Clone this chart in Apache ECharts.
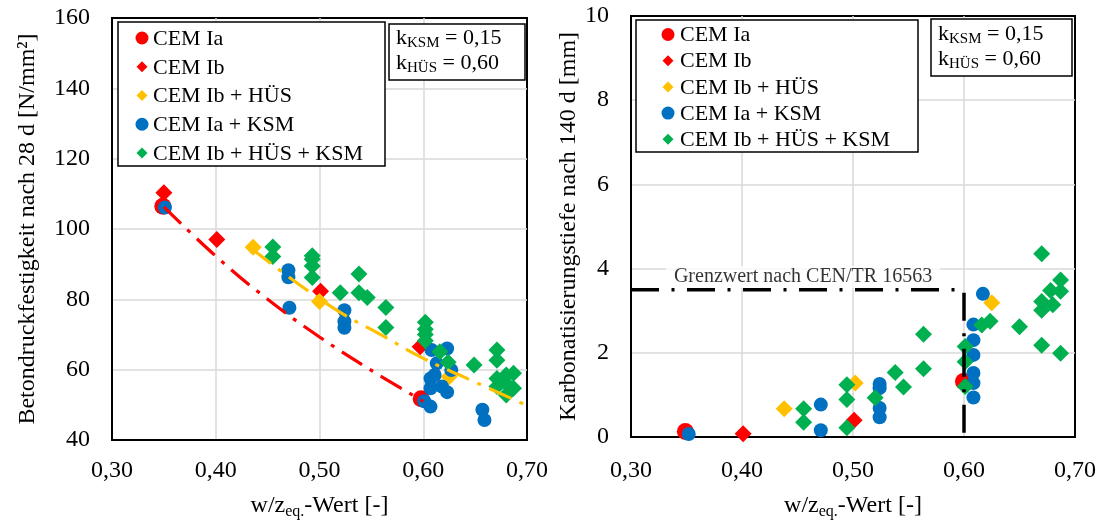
<!DOCTYPE html>
<html>
<head>
<meta charset="utf-8">
<script src="https://cdn.jsdelivr.net/npm/echarts@6/dist/echarts.min.js"></script>
<style>
  html, body { margin: 0; padding: 0; background: #fff; }
  #chart { width: 1102px; height: 525px; }
</style>
</head>
<body>
<div id="chart"></div>
<script>
const FONT = '"Liberation Serif", "Times New Roman", serif';

// Mixtures shown in both panels
const mixNames   = ['CEM Ia', 'CEM Ib', 'CEM Ib + HÜS', 'CEM Ia + KSM', 'CEM Ib + HÜS + KSM'];
const mixColors  = ['#ff0000', '#ff0000', '#ffc000', '#0070c0', '#00b050'];
const mixSymbols = ['circle', 'diamond', 'diamond', 'circle', 'diamond'];
const mixSizes   = [17, 17, 17, 14, 17];

// Efficiency factors
const kLines = [['KSM', '0,15'], ['HÜS', '0,60']];

// Axis ranges
const wzRange = [0.30, 0.70, 0.10];
const fcRange = [40, 160, 20];
const dcRange = [0, 10, 2];

// Left panel: compressive strength after 28 d [N/mm²] over w/z_eq
const fcIa = [[0.349, 106.5], [0.598, 51.7]];
const fcIb = [[0.350, 110.3], [0.401, 97.0], [0.501, 82.3], [0.597, 66.5]];
const fcIbHus = [[0.436, 94.8], [0.500, 79.4], [0.625, 58.0]];
const fcIaKsm = [
  [0.351, 106.1], [0.470, 88.3], [0.470, 86.3], [0.471, 77.6], [0.524, 76.9],
  [0.524, 73.7], [0.524, 71.9], [0.608, 65.6], [0.623, 66.0], [0.613, 61.8],
  [0.627, 59.9], [0.611, 58.5], [0.607, 57.5], [0.607, 54.7], [0.618, 55.2],
  [0.623, 53.6], [0.601, 51.0], [0.607, 49.5], [0.657, 48.6], [0.659, 45.7]
];
const fcIbHusKsm = [
  [0.455, 94.9], [0.455, 92.2], [0.493, 92.4], [0.493, 91.4], [0.493, 89.5],
  [0.493, 86.2], [0.520, 81.9], [0.538, 87.2], [0.538, 81.9], [0.546, 80.5],
  [0.564, 77.7], [0.564, 72.0], [0.602, 73.5], [0.602, 71.5], [0.602, 70.0],
  [0.602, 68.2], [0.616, 65.1], [0.624, 62.1], [0.649, 61.3], [0.671, 65.6],
  [0.671, 62.7], [0.671, 57.5], [0.680, 58.5], [0.687, 59.0], [0.671, 55.2],
  [0.680, 56.1], [0.687, 54.7], [0.680, 52.8]
];
// Trend lines
const fcIaTrend = [[0.35, 106.3], [0.40, 92.3], [0.45, 80.0], [0.50, 69.3], [0.55, 59.8], [0.60, 51.0]];
const fcIbHusTrend = [[0.435, 94.3], [0.48, 84.3], [0.52, 76.3], [0.56, 69.8], [0.60, 63.2], [0.64, 57.8], [0.70, 49.8]];

// Right panel: carbonation depth after 140 d [mm] over w/z_eq
const dcIa = [[0.349, 0.13], [0.5995, 1.32]];
const dcIb = [[0.401, 0.08], [0.501, 0.40], [0.601, 1.22]];
const dcIbHus = [[0.438, 0.67], [0.502, 1.28], [0.625, 3.19]];
const dcIaKsm = [
  [0.352, 0.07], [0.471, 0.77], [0.471, 0.16], [0.524, 1.26], [0.524, 1.16],
  [0.524, 0.69], [0.524, 0.47], [0.6085, 2.67], [0.6085, 2.30], [0.6085, 1.95],
  [0.6085, 1.52], [0.6085, 1.28], [0.6085, 0.94], [0.617, 3.40]
];
const dcIbHusKsm = [
  [0.4555, 0.67], [0.4555, 0.35], [0.4945, 1.24], [0.4945, 0.89], [0.4945, 0.22],
  [0.520, 0.93], [0.538, 1.53], [0.5455, 1.19], [0.5635, 1.62], [0.5635, 2.44],
  [0.601, 2.15], [0.601, 1.79], [0.601, 1.20], [0.616, 2.66], [0.6235, 2.75],
  [0.650, 2.62], [0.670, 4.35], [0.687, 3.73], [0.678, 3.48], [0.687, 3.46],
  [0.670, 3.22], [0.680, 3.14], [0.670, 3.01], [0.670, 2.18], [0.687, 1.99]
];
// Limit value after CEN/TR 16563
const limitLine = [[0.30, 3.5], [0.60, 3.5], [0.60, 0]];
const limitText = 'Grenzwert nach CEN/TR 16563';
const limitTextAt = [[0.455, 3.80]];

const fcSets = [fcIa, fcIb, fcIbHus, fcIaKsm, fcIbHusKsm];
const dcSets = [dcIa, dcIb, dcIbHus, dcIaKsm, dcIbHusKsm];

const chart = echarts.init(document.getElementById('chart'), null, { renderer: 'canvas' });

const commaFmt = v => v.toFixed(2).replace('.', ',');
const tickFont = { fontFamily: FONT, fontSize: 24, color: '#000' };
const gridLine = { show: true, showMinLine: false, showMaxLine: false, lineStyle: { color: '#d9d9d9', width: 1.5 } };
const blackAxis = { show: true, lineStyle: { color: '#000', width: 2 } };

function xAxisFor(gridIndex, margin, nameGap) {
  return {
    type: 'value', gridIndex,
    min: wzRange[0], max: wzRange[1], interval: wzRange[2],
    axisLine: blackAxis, axisTick: { show: false },
    axisLabel: Object.assign({ margin, formatter: commaFmt }, tickFont),
    splitLine: gridLine,
    name: '{a|w/z}{b|eq.}{a|-Wert [-]}',
    nameLocation: 'middle', nameGap,
    nameTextStyle: {
      rich: {
        a: { fontFamily: FONT, fontSize: 24, lineHeight: 28, color: '#000' },
        b: { fontFamily: FONT, fontSize: 16, lineHeight: 14, color: '#000', verticalAlign: 'bottom' }
      }
    }
  };
}
function yAxisFor(gridIndex, range, name, nameGap) {
  return {
    type: 'value', gridIndex,
    min: range[0], max: range[1], interval: range[2],
    axisLine: blackAxis, axisTick: { show: false },
    axisLabel: Object.assign({ margin: 22 }, tickFont),
    splitLine: gridLine,
    name, nameLocation: 'middle', nameGap,
    nameTextStyle: { fontFamily: FONT, fontSize: 24, color: '#000' }
  };
}

const series = [];
// limit line first so the points sit on top of it
series.push({
  type: 'line', xAxisIndex: 1, yAxisIndex: 1, data: limitLine,
  symbol: 'none', silent: true,
  lineStyle: { color: '#000', width: 3.5, type: [28, 12.5, 3, 12.5], cap: 'butt' }
});
series.push({
  type: 'scatter', xAxisIndex: 1, yAxisIndex: 1, data: limitTextAt,
  symbolSize: 0, silent: true,
  label: {
    show: true, position: 'inside', formatter: limitText,
    fontFamily: FONT, fontSize: 20, color: '#000',
    backgroundColor: '#fff', padding: [1, 8, 1, 8]
  }
});
[fcSets, dcSets].forEach((sets, gi) => {
  sets.forEach((data, i) => {
    series.push({
      name: mixNames[i], type: 'scatter', xAxisIndex: gi, yAxisIndex: gi,
      data, symbol: mixSymbols[i], symbolSize: mixSizes[i],
      itemStyle: { color: mixColors[i], opacity: 1 }
    });
  });
});
const trendStyle = c => ({ color: c, width: 3.2, type: [24, 9, 4, 9], cap: 'butt' });
series.push({
  type: 'line', xAxisIndex: 0, yAxisIndex: 0, data: fcIaTrend, smooth: 0.4,
  symbol: 'none', silent: true, lineStyle: trendStyle(mixColors[0])
});
series.push({
  type: 'line', xAxisIndex: 0, yAxisIndex: 0, data: fcIbHusTrend, smooth: 0.4,
  symbol: 'none', silent: true, lineStyle: trendStyle(mixColors[2])
});

// Legend boxes and k-factor boxes
function legendBox(box, markerX, textX, rowTop, rowGap) {
  const els = [{
    type: 'rect', shape: { x: box[0], y: box[1], width: box[2] - box[0], height: box[3] - box[1] },
    style: { fill: '#fff', stroke: '#000', lineWidth: 1.5 }, z: 100
  }];
  mixNames.forEach((n, i) => {
    const cy = rowTop + i * rowGap;
    if (mixSymbols[i] === 'circle') {
      els.push({ type: 'circle', shape: { cx: markerX, cy, r: 6.5 }, style: { fill: mixColors[i] }, z: 101 });
    } else {
      const h = 5.5;
      els.push({
        type: 'polygon',
        shape: { points: [[markerX, cy - h], [markerX + h, cy], [markerX, cy + h], [markerX - h, cy]] },
        style: { fill: mixColors[i] }, z: 101
      });
    }
    els.push({
      type: 'text', x: textX, y: cy + 1, z: 101,
      style: { text: n, font: '22px ' + FONT, fill: '#000', verticalAlign: 'middle', align: 'left' }
    });
  });
  return els;
}
function kBox(box, textX, rowTop, rowGap) {
  const els = [{
    type: 'rect', shape: { x: box[0], y: box[1], width: box[2] - box[0], height: box[3] - box[1] },
    style: { fill: '#fff', stroke: '#000', lineWidth: 1.5 }, z: 100
  }];
  kLines.forEach((k, i) => {
    els.push({
      type: 'text', x: textX, y: rowTop + i * rowGap, z: 101,
      style: {
        text: '{m|k}{s|' + k[0] + '}{m| = ' + k[1] + '}',
        verticalAlign: 'middle', align: 'left',
        rich: {
          m: { fontFamily: FONT, fontSize: 22, lineHeight: 26, color: '#000' },
          s: { fontFamily: FONT, fontSize: 15, lineHeight: 14, color: '#000', verticalAlign: 'bottom' }
        }
      }
    });
  });
  return els;
}

const graphic = [].concat(
  legendBox([118, 22, 385, 166], 142, 153, 38, 28.75),
  legendBox([636, 20, 918, 152], 668, 680, 34.5, 26.2),
  kBox([389, 24, 525, 80], 396, 38, 25),
  kBox([931, 19, 1072, 76], 938, 34, 25)
);

chart.setOption({
  backgroundColor: '#fff',
  animation: false,
  grid: [
    { left: 112, top: 18, width: 415, height: 424, show: true, borderColor: '#000', borderWidth: 2, backgroundColor: 'transparent' },
    { left: 631, top: 16, width: 444, height: 423, show: true, borderColor: '#000', borderWidth: 2, backgroundColor: 'transparent' }
  ],
  xAxis: [xAxisFor(0, 19, 52), xAxisFor(1, 22, 55)],
  yAxis: [
    yAxisFor(0, fcRange, 'Betondruckfestigkeit nach 28 d [N/mm²]', 72),
    yAxisFor(1, dcRange, 'Karbonatisierungstiefe nach 140 d [mm]', 45)
  ],
  series,
  graphic
});
</script>
</body>
</html>
